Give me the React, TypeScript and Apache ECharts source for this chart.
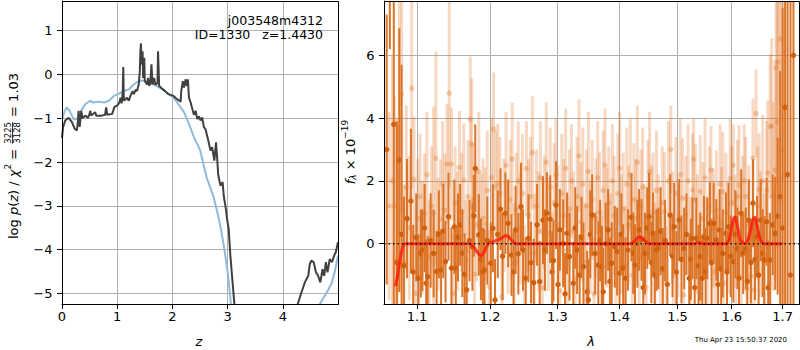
import React, { useEffect, useRef } from "react";
import * as echarts from "echarts";

// ---------- Left panel: log p(z) ----------
const zTicks = [0, 1, 2, 3, 4];
const logpTicks = [-5, -4, -3, -2, -1, 0, 1];

const pzZ = [0.0, 0.02, 0.06, 0.12, 0.18, 0.23, 0.27, 0.29, 0.3, 0.32, 0.35, 0.37, 0.42, 0.47, 0.5, 0.51, 0.53, 0.6, 0.62, 0.72, 0.78, 0.8, 0.82, 0.91, 0.95, 1.0, 1.04, 1.06, 1.08, 1.1, 1.11, 1.12, 1.18, 1.21, 1.24, 1.28, 1.3, 1.34, 1.36, 1.39, 1.41, 1.42, 1.43, 1.44, 1.45, 1.46, 1.47, 1.48, 1.49, 1.5, 1.54, 1.56, 1.58, 1.6, 1.62, 1.64, 1.67, 1.69, 1.73, 1.74, 1.76, 1.81, 1.87, 1.93, 2.02, 2.08, 2.15, 2.16, 2.19, 2.21, 2.24, 2.26, 2.28, 2.3, 2.33, 2.37, 2.39, 2.42, 2.45, 2.48, 2.51, 2.54, 2.57, 2.6, 2.65, 2.69, 2.72, 2.76, 2.79, 2.81, 2.83, 2.87, 2.91, 2.93, 2.97, 2.99, 3.02, 3.05, 3.09, 3.12, 3.16, 3.25, 3.5, 4.0, 4.2, 4.27, 4.34, 4.4, 4.46, 4.49, 4.52, 4.56, 4.6, 4.64, 4.68, 4.72, 4.75, 4.78, 4.81, 4.85, 4.89, 4.93, 4.96, 5.0];
const pzLog = [-1.45, -1.2, -1.05, -0.99, -1.09, -1.24, -1.28, -1.05, -0.83, -1.2, -0.83, -1.0, -0.94, -0.99, -0.9, -0.83, -0.94, -0.86, -0.94, -0.94, -0.92, -0.75, -0.92, -0.9, -0.74, -0.71, -0.64, -0.53, -0.66, -0.4, 0.17, -0.6, -0.53, -0.6, -0.49, -0.38, -0.45, -0.34, -0.38, -0.23, 0.08, 0.5, 0.71, 0.23, 0.4, 0.53, -0.08, 0.1, 0.38, -0.15, -0.23, -0.08, -0.26, -0.2, 0.23, -0.23, -0.08, -0.23, -0.2, 0.53, -0.26, -0.32, -0.38, -0.45, -0.49, -0.56, -0.62, -0.38, -0.15, -0.3, -0.11, -0.26, -0.11, -0.53, -0.64, -0.83, -0.92, -0.83, -1.02, -0.96, -1.05, -0.98, -1.2, -1.25, -1.51, -1.74, -1.66, -1.97, -1.55, -1.89, -2.29, -2.54, -2.46, -2.77, -3.08, -3.3, -3.53, -4.14, -4.75, -5.2, -5.9, -7.0, -9.0, -8.5, -6.0, -5.25, -4.97, -4.75, -4.6, -4.33, -4.25, -4.29, -4.52, -4.6, -4.75, -4.45, -4.6, -4.29, -4.52, -4.22, -4.29, -4.14, -4.06, -3.83];

const priorZ = [0.0, 0.05, 0.09, 0.15, 0.21, 0.27, 0.33, 0.42, 0.51, 0.57, 0.66, 0.76, 0.85, 0.94, 1.03, 1.12, 1.21, 1.3, 1.39, 1.48, 1.57, 1.66, 1.75, 1.84, 1.93, 2.02, 2.11, 2.21, 2.3, 2.39, 2.5, 2.62, 2.74, 2.83, 2.89, 2.95, 3.01, 3.05, 3.1, 3.3, 3.8, 4.3, 4.55, 4.67, 4.73, 4.82, 4.88, 4.94, 5.0];
const priorLog = [-1.02, -0.83, -0.75, -0.86, -1.02, -1.02, -0.86, -0.68, -0.6, -0.64, -0.62, -0.64, -0.6, -0.49, -0.44, -0.38, -0.34, -0.23, -0.15, -0.14, -0.17, -0.23, -0.29, -0.36, -0.45, -0.53, -0.68, -0.86, -1.13, -1.43, -1.72, -2.35, -2.77, -3.23, -3.61, -4.07, -4.6, -5.1, -5.8, -8.0, -10.0, -8.5, -6.0, -5.25, -5.12, -4.93, -4.78, -4.52, -4.14];

// ---------- Right panel: spectrum ----------
const lamTicks = [1.1, 1.2, 1.3, 1.4, 1.5, 1.6, 1.7];
const fluxTicks = [0, 2, 4, 6];

// [lambda, flux, error]
const darkPoints = [
  [1.061, 3.0, 4.3], [1.065, 9.5, 3.3], [1.07, 3.8, 6.0], [1.074, -0.6, 4.5], [1.077, 2.66, 4.2],
  [1.08, 0.3, 5.4], [1.083, -0.7, 2.2], [1.087, 0.8, 1.9], [1.092, 1.36, 2.3], [1.095, -0.9, 1.5],
  [1.099, 0.2, 1.4], [1.102, -1.1, 1.4], [1.105, -0.31, 1.4], [1.107, -0.2, 1.3], [1.11, 0.5, 1.4],
  [1.112, -1.26, 1.4], [1.114, -1.05, 1.3], [1.118, 0.1, 1.5], [1.122, -0.31, 1.4], [1.126, -0.89, 1.3],
  [1.129, 0.3, 1.4], [1.132, -0.84, 1.3], [1.135, 0.4, 1.5], [1.138, -0.57, 1.3], [1.142, 0.86, 1.4],
  [1.146, -0.78, 1.3], [1.15, 0.54, 1.5], [1.152, -0.78, 1.3], [1.155, 0.2, 1.4], [1.158, 0.6, 1.3],
  [1.161, -0.3, 1.4], [1.164, -0.97, 1.3], [1.167, -1.47, 1.4], [1.171, 0.1, 1.3], [1.175, -0.1, 1.4],
  [1.177, 0.89, 1.3], [1.179, 2.4, 1.4], [1.184, 0.28, 1.3], [1.187, -0.5, 1.3], [1.19, -0.89, 1.4],
  [1.192, -0.84, 1.3], [1.196, 0.1, 1.4], [1.201, -0.62, 1.3], [1.204, 0.49, 1.4], [1.207, -1.79, 1.3],
  [1.211, 0.3, 1.4], [1.215, 1.1, 1.3], [1.218, -0.4, 1.4], [1.222, 0.97, 1.3], [1.226, 0.65, 1.4],
  [1.231, -0.36, 1.3], [1.234, -0.9, 1.3], [1.237, 0.44, 1.4], [1.241, -0.32, 1.3], [1.245, 1.18, 1.4],
  [1.248, -0.2, 1.3], [1.252, -1.1, 1.3], [1.256, 0.17, 1.4], [1.26, -0.6, 1.3], [1.264, -1.24, 1.4],
  [1.269, 0.6, 1.3], [1.273, -1.21, 1.3], [1.278, 0.75, 1.4], [1.281, -0.2, 1.3], [1.284, 0.97, 1.3],
  [1.289, 0.78, 1.4], [1.292, -0.9, 1.3], [1.294, -0.54, 1.3], [1.298, 1.23, 1.4], [1.301, -1.3, 1.3],
  [1.304, 0.44, 1.3], [1.309, 0.01, 1.4], [1.312, -1.6, 1.3], [1.315, 0.33, 1.3], [1.319, -0.41, 1.4],
  [1.325, -1.26, 1.3], [1.328, 0.5, 1.3], [1.331, -0.2, 1.4], [1.335, -1.0, 1.3], [1.338, 0.2, 1.3],
  [1.341, -0.73, 1.4], [1.347, -1.53, 1.3], [1.349, -1.79, 1.3], [1.352, 0.3, 1.4], [1.355, 0.91, 1.3],
  [1.36, -0.31, 1.3], [1.365, -0.68, 1.4], [1.368, 0.1, 1.3], [1.371, -0.73, 1.3], [1.373, -1.53, 1.4],
  [1.377, 0.0, 1.3], [1.381, 0.44, 1.3], [1.384, -1.2, 1.4], [1.387, -0.62, 1.3], [1.392, -0.1, 1.3],
  [1.396, -0.25, 1.4], [1.4, -0.94, 1.3], [1.403, 0.3, 1.3], [1.406, -0.78, 1.4], [1.41, -1.1, 1.3],
  [1.414, -0.2, 1.3], [1.42, 0.84, 1.4], [1.423, -0.3, 1.3], [1.426, -0.68, 1.3], [1.43, 0.0, 1.4],
  [1.433, 0.44, 1.3], [1.437, 0.12, 1.3], [1.44, -1.4, 1.4], [1.443, -0.31, 1.3], [1.447, 0.5, 1.3],
  [1.45, 0.86, 1.4], [1.454, -0.6, 1.3], [1.457, 0.33, 1.3], [1.46, -1.0, 1.4], [1.463, -0.2, 1.3],
  [1.466, -0.15, 1.3], [1.47, 0.4, 1.4], [1.474, -0.8, 1.3], [1.478, 0.1, 1.3], [1.482, -1.3, 1.4],
  [1.487, 0.91, 1.3], [1.491, -0.4, 1.3], [1.494, 0.54, 1.4], [1.498, -0.9, 1.3], [1.503, 0.75, 1.3],
  [1.507, -0.5, 1.4], [1.512, -0.15, 1.3], [1.516, 0.3, 1.3], [1.521, -1.1, 1.4], [1.524, -0.5, 1.3],
  [1.527, 0.17, 1.3], [1.531, -1.4, 1.4], [1.534, 0.17, 1.3], [1.538, -0.7, 1.3], [1.541, -0.41, 1.4],
  [1.545, -1.1, 1.3], [1.548, 0.22, 1.3], [1.551, -0.9, 1.4], [1.554, 0.17, 1.3], [1.559, 0.65, 1.3],
  [1.562, -0.6, 1.4], [1.566, 0.65, 1.3], [1.571, 0.12, 1.3], [1.574, -1.3, 1.4], [1.577, 0.44, 1.3],
  [1.58, -0.8, 1.3], [1.583, -0.31, 1.4], [1.589, 0.33, 1.3], [1.591, -0.9, 1.3], [1.594, 0.54, 1.4],
  [1.598, -0.4, 1.3], [1.603, -0.57, 1.3], [1.607, 0.3, 1.4], [1.611, -0.15, 1.3], [1.614, -1.1, 1.3],
  [1.618, 0.97, 1.4], [1.622, -0.3, 1.3], [1.627, -0.15, 1.3], [1.63, -1.2, 1.4], [1.633, 0.75, 1.3],
  [1.637, -0.6, 1.3], [1.641, 1.29, 1.4], [1.645, -0.5, 1.3], [1.649, 0.22, 1.3], [1.652, -1.0, 1.4],
  [1.656, 0.75, 1.3], [1.66, -0.3, 1.4], [1.663, -0.52, 1.4], [1.668, 0.7, 1.4], [1.671, -1.4, 1.5],
  [1.675, -0.52, 1.5], [1.68, 0.6, 1.6], [1.685, 0.33, 1.8], [1.69, 0.88, 2.5], [1.695, 1.5, 4.0],
  [1.7, 0.5, 7.0], [1.705, 4.34, 8.0], [1.71, 2.2, 9.0], [1.716, -1.0, 10.0], [1.722, 6.0, 12.0],
];

const lightPoints = [
  [1.064, 1.2, 3.0], [1.068, 2.0, 4.0], [1.071, 1.2, 3.5], [1.074, -0.5, 4.5], [1.077, 3.5, 5.0],
  [1.08, 4.76, 3.8], [1.083, -0.62, 2.5], [1.086, 1.8, 2.6], [1.09, 0.5, 2.3], [1.093, 4.95, 3.2],
  [1.096, 2.05, 2.0], [1.098, -1.58, 1.8], [1.101, 0.8, 1.9], [1.104, 1.5, 2.0], [1.107, 0.2, 1.8],
  [1.11, 0.97, 1.9], [1.113, 2.2, 2.0], [1.116, -0.4, 1.8], [1.119, 1.2, 1.9], [1.122, 0.97, 3.4],
  [1.125, 2.72, 3.4], [1.128, 0.3, 1.8], [1.131, 0.78, 1.9], [1.134, 1.9, 2.0], [1.137, 1.07, 1.8],
  [1.14, 2.54, 1.9], [1.143, 4.79, 3.0], [1.146, 2.54, 1.8], [1.148, -1.58, 1.9], [1.151, 1.3, 1.8],
  [1.154, 0.4, 1.9], [1.157, 2.43, 1.8], [1.16, 1.0, 1.9], [1.163, 2.03, 1.8], [1.166, -0.5, 1.9],
  [1.169, 1.5, 1.8], [1.172, 3.96, 2.0], [1.174, 3.17, 2.1], [1.176, 1.4, 1.8], [1.178, -0.97, 1.9],
  [1.181, 0.6, 1.8], [1.184, 2.3, 1.9], [1.187, 0.44, 1.8], [1.19, 0.81, 1.9], [1.193, 0.63, 1.8],
  [1.196, 1.7, 1.9], [1.199, -1.37, 1.8], [1.202, 2.1, 1.9], [1.205, 3.65, 1.8], [1.208, 1.8, 1.8],
  [1.211, 1.92, 1.9], [1.214, 1.6, 1.8], [1.217, -1.69, 1.9], [1.22, 0.9, 1.8], [1.223, 2.5, 1.7],
  [1.226, 0.2, 1.8], [1.229, 1.4, 1.9], [1.232, 2.7, 1.8], [1.235, -0.6, 1.9], [1.238, 1.1, 1.8],
  [1.241, 2.0, 1.9], [1.244, 0.5, 1.8], [1.247, 1.6, 1.9], [1.25, -1.2, 1.8], [1.253, 2.4, 1.5],
  [1.256, 0.9, 1.8], [1.259, 1.5, 1.9], [1.262, 2.9, 1.8], [1.265, -0.3, 1.9], [1.268, 1.2, 1.8],
  [1.271, 0.4, 1.9], [1.274, 2.1, 1.8], [1.277, -1.4, 1.9], [1.28, 1.0, 1.8], [1.283, 2.6, 1.9],
  [1.286, 0.3, 1.8], [1.289, 1.8, 1.9], [1.292, -0.8, 1.8], [1.295, 1.3, 1.9], [1.298, 2.2, 1.8],
  [1.301, 0.6, 1.9], [1.304, -1.5, 1.8], [1.307, 1.6, 1.9], [1.31, 0.9, 1.8], [1.313, 2.4, 1.9],
  [1.316, -0.2, 1.8], [1.319, 1.1, 1.9], [1.322, 2.0, 1.8], [1.325, 0.4, 1.9], [1.328, -1.1, 1.8],
  [1.331, 1.5, 1.9], [1.334, 2.8, 1.8], [1.337, 0.7, 1.9], [1.34, 1.9, 1.8], [1.343, -0.6, 1.9],
  [1.346, 1.2, 1.8], [1.349, 2.3, 1.9], [1.352, 0.2, 1.8], [1.355, 1.4, 1.9], [1.358, -1.6, 1.8],
  [1.361, 0.8, 1.9], [1.364, 2.1, 1.8], [1.367, 1.0, 1.9], [1.37, -0.9, 1.8], [1.373, 1.7, 1.9],
  [1.376, 2.5, 1.8], [1.379, 0.5, 1.9], [1.382, 1.3, 1.8], [1.385, -0.3, 1.9], [1.388, 2.0, 1.8],
  [1.391, 0.9, 1.9], [1.394, -1.3, 1.8], [1.397, 1.6, 1.9], [1.4, 2.4, 1.8], [1.403, 0.3, 1.9],
  [1.406, 1.1, 1.8], [1.409, -0.7, 1.9], [1.412, 1.9, 1.8], [1.415, 0.6, 1.9], [1.418, 2.2, 1.8],
  [1.421, -1.0, 1.9], [1.424, 1.4, 1.8], [1.427, 0.8, 1.9], [1.43, 2.6, 1.8], [1.433, -0.4, 1.9],
  [1.436, 1.2, 1.8], [1.439, 1.8, 1.9], [1.442, 0.1, 1.8], [1.445, -1.4, 1.9], [1.448, 1.5, 1.8],
  [1.451, 2.3, 1.9], [1.454, 0.7, 1.8], [1.457, 1.0, 1.9], [1.46, -0.5, 1.8], [1.463, 1.7, 1.9],
  [1.466, 0.4, 1.8], [1.47, -0.78, 1.9], [1.473, 1.3, 1.8], [1.477, 1.02, 1.9], [1.48, -1.26, 1.8],
  [1.484, 2.0, 1.9], [1.488, 3.0, 1.4], [1.491, 0.5, 1.8], [1.493, -1.0, 1.9], [1.497, 1.6, 1.8],
  [1.501, 0.2, 1.9], [1.505, 2.2, 1.8], [1.509, 1.45, 1.9], [1.511, -1.63, 1.8], [1.515, 0.9, 1.9],
  [1.519, 2.0, 1.8], [1.523, -0.4, 1.9], [1.527, 1.71, 1.8], [1.529, 2.69, 1.3], [1.532, 1.39, 1.8],
  [1.536, 0.3, 1.9], [1.541, 1.66, 1.8], [1.542, -1.6, 1.9], [1.546, 0.8, 1.8], [1.55, 2.1, 1.9],
  [1.554, -0.3, 1.8], [1.558, 1.2, 1.9], [1.561, 2.35, 1.4], [1.565, 0.5, 1.9], [1.568, -0.9, 1.8],
  [1.571, 1.07, 1.9], [1.574, -0.84, 1.8], [1.578, 1.9, 1.9], [1.581, 0.65, 1.8], [1.583, 1.66, 1.9],
  [1.585, -1.26, 1.8], [1.589, 1.0, 1.9], [1.593, 0.2, 1.8], [1.597, 2.08, 1.9], [1.6, 1.3, 1.8],
  [1.603, 2.5, 1.3], [1.606, 0.4, 1.8], [1.608, -0.25, 1.9], [1.611, 1.5, 1.8], [1.614, 1.87, 1.9],
  [1.618, -1.05, 1.8], [1.621, 0.9, 1.9], [1.624, 2.0, 1.8], [1.627, 1.5, 1.9], [1.629, -1.42, 1.8],
  [1.633, 0.6, 1.9], [1.637, -1.03, 1.8], [1.641, 2.72, 1.9], [1.643, -1.47, 1.8], [1.647, 4.15, 1.4],
  [1.65, 1.2, 1.9], [1.653, 1.73, 1.8], [1.656, 0.3, 2.0], [1.66, 2.0, 2.1], [1.664, -0.4, 2.0],
  [1.668, 1.71, 2.2], [1.67, 2.26, 2.3], [1.673, -1.26, 2.2], [1.675, 3.73, 2.3], [1.678, 3.75, 2.8],
  [1.681, 1.5, 3.0], [1.685, 2.35, 3.5], [1.687, 5.6, 3.8], [1.689, 3.87, 4.0], [1.691, 5.79, 4.5],
  [1.695, 6.52, 5.0], [1.698, 3.0, 6.0], [1.702, 8.0, 6.0],
];

// best-fit line model [lambda, flux]
const modelPoints = [
  [1.072, -1.35], [1.075, -1.0], [1.078, -0.5], [1.081, -0.12], [1.084, 0], [1.09, 0],
  [1.172, 0], [1.177, -0.1], [1.181, -0.25], [1.185, -0.36], [1.188, -0.38], [1.191, -0.3],
  [1.194, -0.12], [1.198, 0.02], [1.203, 0.06], [1.208, 0.1], [1.213, 0.14], [1.218, 0.2],
  [1.222, 0.26], [1.226, 0.24], [1.23, 0.14], [1.234, 0.04], [1.238, 0],
  [1.42, 0], [1.426, 0.1], [1.431, 0.2], [1.435, 0.22], [1.439, 0.18], [1.444, 0.06], [1.45, 0],
  [1.528, 0], [1.537, 0.04], [1.546, 0],
  [1.59, 0], [1.595, 0.1], [1.599, 0.42], [1.603, 0.8], [1.607, 0.86], [1.611, 0.55], [1.615, 0.2], [1.62, 0.03],
  [1.626, 0], [1.631, 0.1], [1.636, 0.4], [1.64, 0.75], [1.645, 0.86], [1.649, 0.6], [1.653, 0.25], [1.658, 0.05], [1.664, 0],
  [1.7, 0],
];

const FONT = "DejaVu Sans";
const LN_MIN = 0.056;
const LN_MAX = 0.5501;

const minus = (v: number) => (v < 0 ? "\u2212" + Math.abs(v) : String(v));

type Seg = { t?: string; s: number; i?: boolean; dy?: number; frac?: [string, string] };

function buildRotatedLabel(cx: number, cy: number, segs: Seg[]) {
  const ctx = document.createElement("canvas").getContext("2d")!;
  const measure = (t: string, s: number, i?: boolean) => {
    ctx.font = `${i ? "italic " : ""}${s}px "${FONT}"`;
    return ctx.measureText(t).width;
  };
  const widths = segs.map((sg) =>
    sg.frac ? Math.max(measure(sg.frac[0], sg.s), measure(sg.frac[1], sg.s)) + 2 : measure(sg.t!, sg.s, sg.i)
  );
  const total = widths.reduce((a, b) => a + b, 0);
  let x = -total / 2;
  const children: any[] = [];
  segs.forEach((sg, k) => {
    const w = widths[k];
    if (sg.frac) {
      const mid = x + w / 2;
      children.push({
        type: "text",
        x: mid,
        y: -5,
        style: { text: sg.frac[0], fontSize: sg.s, fontFamily: FONT, fill: "#000", align: "center", textAlign: "center", verticalAlign: "middle", textVerticalAlign: "middle" },
      });
      children.push({
        type: "text",
        x: mid,
        y: 4,
        style: { text: sg.frac[1], fontSize: sg.s, fontFamily: FONT, fill: "#000", align: "center", textAlign: "center", verticalAlign: "middle", textVerticalAlign: "middle" },
      });
      children.push({
        type: "line",
        shape: { x1: x + 1, y1: -0.5, x2: x + w - 1, y2: -0.5 },
        style: { stroke: "#000", lineWidth: 0.8 },
      });
    } else {
      children.push({
        type: "text",
        x,
        y: sg.dy || 0,
        style: {
          text: sg.t,
          fontSize: sg.s,
          fontFamily: FONT,
          fontStyle: sg.i ? "italic" : "normal",
          fill: "#000",
          align: "left",
          textAlign: "left",
          verticalAlign: "middle",
          textVerticalAlign: "middle",
        },
      });
    }
    x += w;
  });
  return { type: "group", x: cx, y: cy, rotation: Math.PI / 2, silent: true, children };
}

function errRenderer(barColor: string, dotColor: string, lw: number, r: number) {
  return (params: any, api: any) => {
    const x = api.value(0);
    const y = api.value(1);
    const e = api.value(2);
    const cs = params.coordSys;
    const yTop = cs.y;
    const yBot = cs.y + cs.height;
    const p0 = api.coord([x, y + e]);
    const p1 = api.coord([x, y - e]);
    const c = api.coord([x, y]);
    const y1 = Math.max(yTop, Math.min(yBot, p0[1]));
    const y2 = Math.max(yTop, Math.min(yBot, p1[1]));
    const children: any[] = [];
    if (y2 > y1) {
      children.push({
        type: "line",
        shape: { x1: c[0], y1, x2: c[0], y2 },
        style: { stroke: barColor, lineWidth: lw },
      });
    }
    if (c[1] >= yTop + r && c[1] <= yBot - r) {
      children.push({ type: "circle", shape: { cx: c[0], cy: c[1], r }, style: { fill: dotColor } });
    }
    return { type: "group", children };
  };
}

export default function App() {
  const ref = useRef<HTMLDivElement>(null);
  useEffect(() => {
    const el = ref.current!;
    const chart = echarts.init(el, undefined, { renderer: "svg" });

    const axisLine = { show: true, onZero: false, lineStyle: { color: "#000", width: 1 } };
    const splitLine = { show: true, lineStyle: { color: "#b0b0b0", width: 1 } };
    const tick = (vals: number[]) => ({ show: true, inside: false, length: 5, customValues: vals, lineStyle: { color: "#000", width: 1 } });
    const label = (vals: number[], margin: number, formatter: any) => ({
      show: true,
      customValues: vals,
      color: "#000",
      fontSize: 13,
      fontFamily: FONT,
      margin,
      formatter,
    });

    const lnLamTicks = lamTicks.map((v) => Math.log(v));

    const option: any = {
      animation: false,
      backgroundColor: "#fff",
      grid: [
        { left: 62, top: 1, width: 276, height: 303, containLabel: false, outerBoundsMode: "none" },
        { left: 384, top: 1, width: 415, height: 303, containLabel: false, outerBoundsMode: "none" },
      ],
      xAxis: [
        {
          type: "value", gridIndex: 0, min: 0, max: 5,
          axisLine, splitLine, axisTick: tick(zTicks), axisLabel: label(zTicks, 6, (v: number) => minus(v)),
        },
        {
          type: "value", gridIndex: 1, min: LN_MIN, max: LN_MAX,
          axisLine, splitLine, axisTick: tick(lnLamTicks), axisLabel: label(lnLamTicks, 6, (v: number) => Math.exp(v).toFixed(1)),
        },
      ],
      yAxis: [
        {
          type: "value", gridIndex: 0, min: -5.244, max: 1.679,
          axisLine, splitLine, axisTick: tick(logpTicks), axisLabel: label(logpTicks, 9.5, (v: number) => minus(v)),
        },
        {
          type: "value", gridIndex: 1, min: -1.92, max: 7.73,
          axisLine, splitLine, axisTick: tick(fluxTicks), axisLabel: label(fluxTicks, 9.5, (v: number) => minus(v)),
        },
      ],
      series: [
        {
          type: "line", xAxisIndex: 0, yAxisIndex: 0, z: 2,
          data: priorZ.map((z, i) => [z, priorLog[i]]),
          showSymbol: false, symbol: "none", clip: true,
          lineStyle: { color: "#8fbbd9", width: 2 },
        },
        {
          type: "line", xAxisIndex: 0, yAxisIndex: 0, z: 3,
          data: pzZ.map((z, i) => [z, pzLog[i]]),
          showSymbol: false, symbol: "none", clip: true,
          lineStyle: { color: "#404040", width: 2 },
        },
        {
          type: "custom", xAxisIndex: 1, yAxisIndex: 1, z: 2,
          dimensions: ["x", "y", "e"], encode: { x: 0, y: 1 },
          data: lightPoints.map((p) => [Math.log(p[0]), p[1], p[2]]),
          renderItem: errRenderer("rgba(225,115,35,0.28)", "rgba(225,115,35,0.32)", 3, 2.7),
          silent: true,
        },
        {
          type: "custom", xAxisIndex: 1, yAxisIndex: 1, z: 3,
          dimensions: ["x", "y", "e"], encode: { x: 0, y: 1 },
          data: darkPoints.map((p) => [Math.log(p[0]), p[1], p[2]]),
          renderItem: errRenderer("#dc7428", "#cf600d", 2, 2.7),
          silent: true,
        },
        {
          type: "line", xAxisIndex: 1, yAxisIndex: 1, z: 4,
          data: modelPoints.map((p) => [Math.log(p[0]), p[1]]),
          showSymbol: false, symbol: "none", clip: true,
          lineStyle: { color: "rgba(255,20,10,0.78)", width: 3 },
        },
        {
          type: "line", xAxisIndex: 1, yAxisIndex: 1, z: 5,
          data: [[LN_MIN, 0], [LN_MAX, 0]],
          showSymbol: false, symbol: "none",
          lineStyle: { color: "#111", width: 1.5, type: [1.5, 3] },
        },
      ],
      graphic: [
        { type: "rect", z: 100, silent: true, shape: { x: 62.5, y: 1.5, width: 276, height: 303 }, style: { fill: "none", stroke: "#000", lineWidth: 1 } },
        { type: "rect", z: 100, silent: true, shape: { x: 384.5, y: 1.5, width: 415, height: 303 }, style: { fill: "none", stroke: "#000", lineWidth: 1 } },
        {
          type: "text", x: 323, y: 20, z: 100, silent: true,
          style: { text: "j003548m4312", fontSize: 12.5, fontFamily: FONT, fill: "#000", align: "right", textAlign: "right", verticalAlign: "middle", textVerticalAlign: "middle" },
        },
        {
          type: "text", x: 323, y: 34, z: 100, silent: true,
          style: { text: "ID=1330   z=1.4430", fontSize: 12.5, fontFamily: FONT, fill: "#000", align: "right", textAlign: "right", verticalAlign: "middle", textVerticalAlign: "middle" },
        },
        {
          type: "text", x: 199, y: 341, z: 100, silent: true,
          style: { text: "z", fontSize: 13, fontStyle: "italic", fontFamily: FONT, fill: "#000", align: "center", textAlign: "center", verticalAlign: "middle", textVerticalAlign: "middle" },
        },
        {
          type: "text", x: 591, y: 341, z: 100, silent: true,
          style: { text: "λ", fontSize: 13, fontStyle: "italic", fontFamily: FONT, fill: "#000", align: "center", textAlign: "center", verticalAlign: "middle", textVerticalAlign: "middle" },
        },
        {
          type: "text", x: 787, y: 339.5, z: 100, silent: true,
          style: { text: "Thu Apr 23 15:50:37 2020", fontSize: 7, fontFamily: FONT, fill: "#000", align: "right", textAlign: "right", verticalAlign: "middle", textVerticalAlign: "middle" },
        },
        buildRotatedLabel(13, 156, [
          { t: "log ", s: 13 },
          { t: "p", s: 13, i: true },
          { t: "(", s: 13 },
          { t: "z", s: 13, i: true },
          { t: ") / ", s: 13 },
          { t: "χ", s: 13, i: true },
          { t: "2", s: 9, dy: -5 },
          { t: " = ", s: 13 },
          { frac: ["3225", "3128"], s: 8.5 },
          { t: " = 1.03", s: 13 },
        ]),
        buildRotatedLabel(350, 152, [
          { t: "f", s: 13, i: true },
          { t: "λ", s: 9, i: true, dy: 3 },
          { t: " × 10", s: 13 },
          { t: "\u221219", s: 9, dy: -5 },
        ]),
      ],
    };

    chart.setOption(option);
    return () => chart.dispose();
  }, []);

  return <div ref={ref} style={{ position: "fixed", left: 0, top: 0, width: 800, height: 350, background: "#fff" }} />;
}
